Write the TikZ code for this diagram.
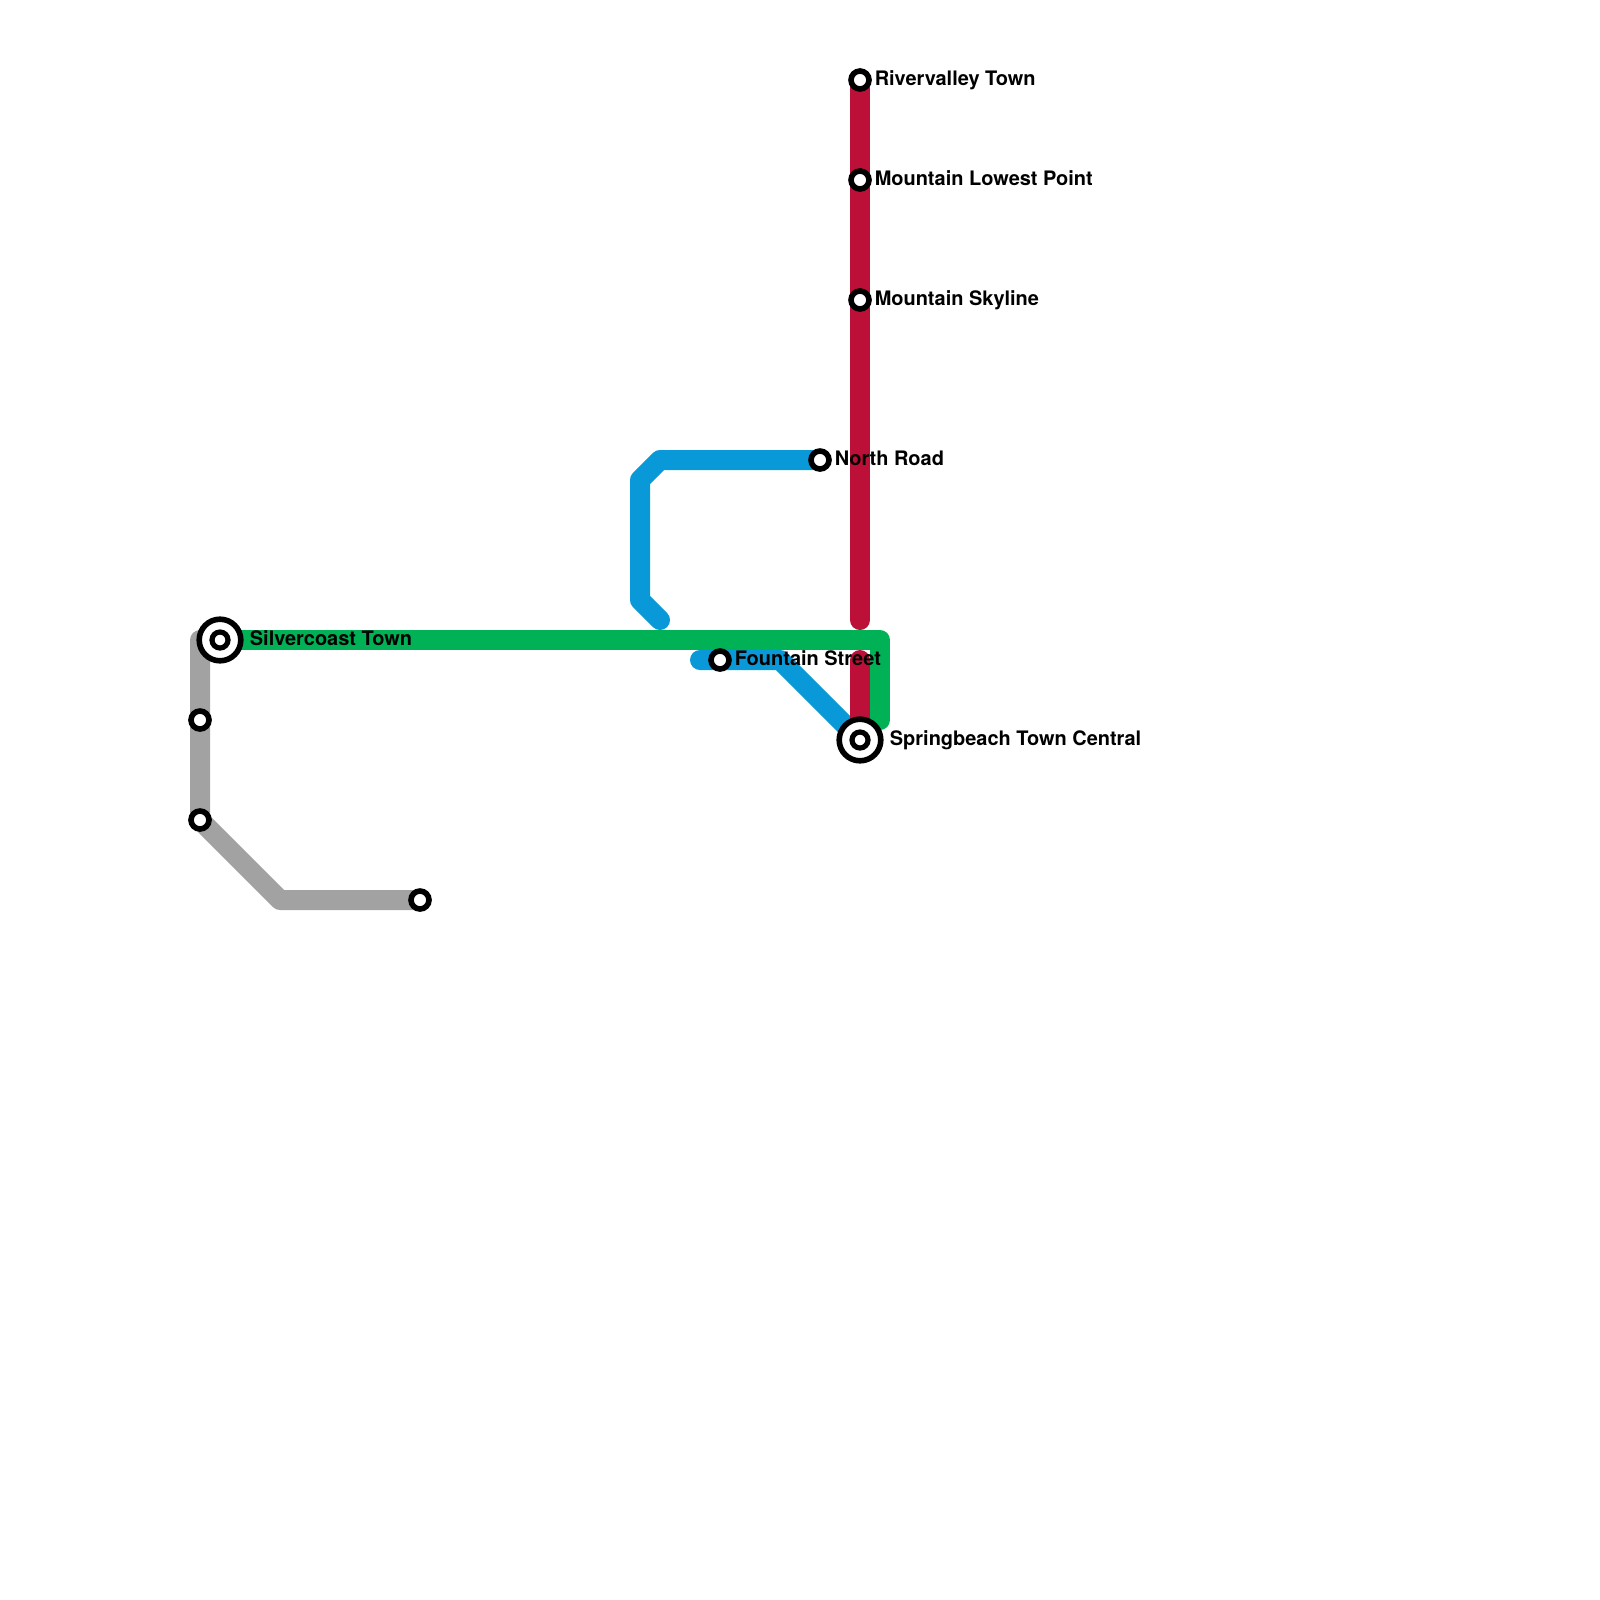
\documentclass[tikz,border=0pt]{standalone}
\usepackage{fontspec}
\setmainfont{TeX Gyre Heros}
\usepackage{xcolor}
\usetikzlibrary{positioning,backgrounds}
\definecolor{linered}{RGB}{189,16,57}
\definecolor{lineblue}{RGB}{9,152,216}
\definecolor{linegreen}{RGB}{0,177,85}
\definecolor{linegrey}{RGB}{162,162,162}
\tikzset{
  station/.style={
    circle,
    draw=black,
    fill=white,
    line width=0.7mm,
    inner sep=0pt,
    outer sep=0pt,
    minimum size=2.25mm
  },
  hub/.style={
    station,
    minimum size=5.2mm
  },
  hubcore/.style={
    station,
    line width=0.65mm,
    minimum size=2mm
  },
  stationname/.style={
    font=\bfseries\fontsize{7.1}{8}\selectfont,
    inner sep=0pt,
    text height=5pt,
    text depth=1.5pt,
    yshift=-0.1pt
  },
  metro/.style={line width=2.5mm,line cap=round,line join=round}
}
\begin{document}
\begin{tikzpicture}[x=5mm,y=-5mm,node distance=0.65mm]
\useasboundingbox (0,0) rectangle (40,40);
\node[station] (river) at (21.5,2) {};
\node[station] (lowest) at (21.5,4.5) {};
\node[station] (skyline) at (21.5,7.5) {};
\node[station] (north) at (20.5,11.5) {};
\node[station] (fountain) at (18,16.5) {};
\node[hub] (spring) at (21.5,18.5) {};
\node[hubcore] (springin) at (21.5,18.5) {};
\node[hub] (silver) at (5.5,16) {};
\node[hubcore] (silverin) at (5.5,16) {};
\node[station] (greya) at (5,18) {};
\node[station] (greyb) at (5,20.5) {};
\node[station] (greyc) at (10.5,22.5) {};
\node[stationname,right=of river] {Rivervalley Town};
\node[stationname,right=of lowest] {Mountain Lowest Point};
\node[stationname,right=of skyline] {Mountain Skyline};
\node[stationname,right=of north] {North Road};
\node[stationname,right=of fountain] {Fountain Street};
\node[stationname,right=1.07mm of spring] {Springbeach Town Central};
\node[stationname,right=1.07mm of silver] {Silvercoast Town};
\begin{scope}[on background layer]
\coordinate (blueup) at (16.5,11.5);
\coordinate (blueleft) at (16,12);
\coordinate (bluedown) at (16,15);
\coordinate (blueend) at (16.5,15.5);
\coordinate (bluestart) at (17.5,16.5);
\coordinate (bluebend) at (19.5,16.5);
\coordinate (redend) at (21.5,15.5);
\coordinate (redstart) at (21.5,16.5);
\coordinate (greencorner) at (22,16);
\coordinate (greenend) at (22,18);
\coordinate (greycorner) at (5,16);
\coordinate (greybend) at (7,22.5);
\draw[metro,linegrey] (silver.center)--(greycorner)--(greya.center)--(greyb.center)--(greybend)--(greyc.center);
\draw[metro,lineblue] (north.center)--(blueup)--(blueleft)--(bluedown)--(blueend);
\draw[metro,lineblue] (bluestart)--(bluebend)--(spring.center);
\draw[metro,linered] (river.center)--(redend);
\draw[metro,linered] (redstart)--(spring.center);
\draw[metro,linegreen] (silver.center)--(greencorner)--(greenend);
\end{scope}
\end{tikzpicture}
\end{document}
